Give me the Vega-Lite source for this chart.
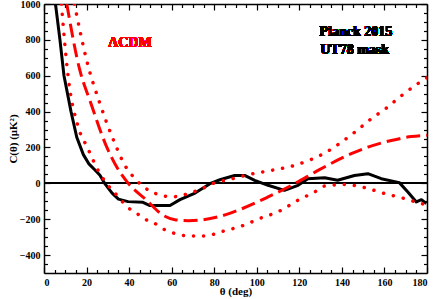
{
  "$schema": "https://vega.github.io/schema/vega-lite/v6.json",
  "width": 383,
  "height": 269,
  "autosize": {"type": "none"},
  "padding": {"left": 44, "top": 4, "right": 9, "bottom": 26},
  "background": "white",
  "config": {
    "view": {"stroke": null},
    "axis": {
      "labelFont": "Liberation Serif",
      "labelFontWeight": "bold",
      "labelFontSize": 10,
      "labelColor": "black",
      "format": "d",
      "titleFont": "Liberation Serif",
      "titleFontWeight": "bold",
      "titleFontSize": 11,
      "titleColor": "black",
      "domainColor": "black",
      "domainWidth": 1.5,
      "tickColor": "black",
      "tickWidth": 1.2,
      "grid": false
    }
  },
  "data": {
    "values": [
      {"series": "data", "theta": 5.4, "C": 1000},
      {"series": "data", "theta": 7.5, "C": 800},
      {"series": "data", "theta": 9.4, "C": 600},
      {"series": "data", "theta": 12.7, "C": 400},
      {"series": "data", "theta": 15.4, "C": 257},
      {"series": "data", "theta": 18.5, "C": 160},
      {"series": "data", "theta": 21, "C": 110},
      {"series": "data", "theta": 23.5, "C": 80},
      {"series": "data", "theta": 26.3, "C": 45},
      {"series": "data", "theta": 28.5, "C": 0},
      {"series": "data", "theta": 32, "C": -55},
      {"series": "data", "theta": 35, "C": -88},
      {"series": "data", "theta": 39.5, "C": -102},
      {"series": "data", "theta": 46.5, "C": -106},
      {"series": "data", "theta": 49.8, "C": -124},
      {"series": "data", "theta": 59.2, "C": -124},
      {"series": "data", "theta": 63.9, "C": -91},
      {"series": "data", "theta": 71, "C": -54},
      {"series": "data", "theta": 78, "C": -2},
      {"series": "data", "theta": 82.7, "C": 20},
      {"series": "data", "theta": 89.6, "C": 44},
      {"series": "data", "theta": 94.3, "C": 44},
      {"series": "data", "theta": 99, "C": 17},
      {"series": "data", "theta": 105.3, "C": -11},
      {"series": "data", "theta": 113, "C": -39},
      {"series": "data", "theta": 119.4, "C": -11},
      {"series": "data", "theta": 124, "C": 26},
      {"series": "data", "theta": 131.9, "C": 31},
      {"series": "data", "theta": 138, "C": 17},
      {"series": "data", "theta": 145.9, "C": 44},
      {"series": "data", "theta": 152.2, "C": 54},
      {"series": "data", "theta": 158.5, "C": 26},
      {"series": "data", "theta": 167, "C": 4},
      {"series": "data", "theta": 171, "C": -48},
      {"series": "data", "theta": 175, "C": -104},
      {"series": "data", "theta": 177.4, "C": -91},
      {"series": "data", "theta": 179.7, "C": -113},

      {"series": "mean", "theta": 10.7, "C": 1000},
      {"series": "mean", "theta": 16.9, "C": 628},
      {"series": "mean", "theta": 21.6, "C": 461},
      {"series": "mean", "theta": 29.5, "C": 202},
      {"series": "mean", "theta": 34.2, "C": 91},
      {"series": "mean", "theta": 39.6, "C": 0},
      {"series": "mean", "theta": 48.2, "C": -94},
      {"series": "mean", "theta": 56, "C": -178},
      {"series": "mean", "theta": 62, "C": -204},
      {"series": "mean", "theta": 68, "C": -208},
      {"series": "mean", "theta": 74, "C": -204},
      {"series": "mean", "theta": 81.8, "C": -187},
      {"series": "mean", "theta": 91.2, "C": -150},
      {"series": "mean", "theta": 105.3, "C": -76},
      {"series": "mean", "theta": 117.8, "C": -2},
      {"series": "mean", "theta": 128.8, "C": 72},
      {"series": "mean", "theta": 144.4, "C": 165},
      {"series": "mean", "theta": 152.2, "C": 202},
      {"series": "mean", "theta": 163.2, "C": 239},
      {"series": "mean", "theta": 172.6, "C": 261},
      {"series": "mean", "theta": 180, "C": 268},

      {"series": "lower", "theta": 8.2, "C": 1000},
      {"series": "lower", "theta": 9.1, "C": 868},
      {"series": "lower", "theta": 11.4, "C": 590},
      {"series": "lower", "theta": 16.1, "C": 313},
      {"series": "lower", "theta": 20.3, "C": 202},
      {"series": "lower", "theta": 26.3, "C": 54},
      {"series": "lower", "theta": 29.5, "C": -2},
      {"series": "lower", "theta": 35.7, "C": -85},
      {"series": "lower", "theta": 38.9, "C": -131},
      {"series": "lower", "theta": 42.8, "C": -159},
      {"series": "lower", "theta": 46.7, "C": -196},
      {"series": "lower", "theta": 51.4, "C": -218},
      {"series": "lower", "theta": 55.3, "C": -250},
      {"series": "lower", "theta": 59.2, "C": -270},
      {"series": "lower", "theta": 63.9, "C": -287},
      {"series": "lower", "theta": 69.4, "C": -294},
      {"series": "lower", "theta": 74.1, "C": -294},
      {"series": "lower", "theta": 78.8, "C": -287},
      {"series": "lower", "theta": 83.3, "C": -270},
      {"series": "lower", "theta": 92.7, "C": -239},
      {"series": "lower", "theta": 101.4, "C": -196},
      {"series": "lower", "theta": 110.8, "C": -154},
      {"series": "lower", "theta": 119.4, "C": -94},
      {"series": "lower", "theta": 127.2, "C": -48},
      {"series": "lower", "theta": 131.9, "C": -15},
      {"series": "lower", "theta": 141.3, "C": -7},
      {"series": "lower", "theta": 150.7, "C": -24},
      {"series": "lower", "theta": 160.1, "C": -57},
      {"series": "lower", "theta": 169.5, "C": -85},
      {"series": "lower", "theta": 177.4, "C": -113},
      {"series": "lower", "theta": 180, "C": -120},

      {"series": "upper", "theta": 14.3, "C": 1000},
      {"series": "upper", "theta": 20.1, "C": 683},
      {"series": "upper", "theta": 26.3, "C": 444},
      {"series": "upper", "theta": 33.4, "C": 220},
      {"series": "upper", "theta": 37.6, "C": 109},
      {"series": "upper", "theta": 42.8, "C": 26},
      {"series": "upper", "theta": 50.6, "C": -48},
      {"series": "upper", "theta": 55.3, "C": -67},
      {"series": "upper", "theta": 60, "C": -76},
      {"series": "upper", "theta": 64.7, "C": -67},
      {"series": "upper", "theta": 70.2, "C": -48},
      {"series": "upper", "theta": 74.9, "C": -26},
      {"series": "upper", "theta": 79.6, "C": 0},
      {"series": "upper", "theta": 86.5, "C": 20},
      {"series": "upper", "theta": 96.7, "C": 50},
      {"series": "upper", "theta": 106.8, "C": 72},
      {"series": "upper", "theta": 116.2, "C": 95},
      {"series": "upper", "theta": 124.9, "C": 130},
      {"series": "upper", "theta": 132.7, "C": 174},
      {"series": "upper", "theta": 137.4, "C": 210},
      {"series": "upper", "theta": 146, "C": 285},
      {"series": "upper", "theta": 153.8, "C": 360},
      {"series": "upper", "theta": 160.9, "C": 420},
      {"series": "upper", "theta": 168, "C": 489},
      {"series": "upper", "theta": 175.8, "C": 557},
      {"series": "upper", "theta": 180, "C": 589}
    ]
  },
  "resolve": {"axis": {"x": "independent", "y": "independent"}},
  "layer": [
    {
      "mark": {"type": "rule", "color": "black", "strokeWidth": 1.2},
      "encoding": {
        "x": {"datum": 0, "type": "quantitative", "scale": {"domain": [0, 180], "nice": false, "zero": false},
          "axis": {"orient": "bottom", "title": "θ (deg)", "values": [0, 20, 40, 60, 80, 100, 120, 140, 160, 180], "tickSize": -6, "labelPadding": 10, "titlePadding": -2}},
        "x2": {"datum": 180},
        "y": {"datum": 0, "type": "quantitative", "scale": {"domain": [-500, 1000], "nice": false, "zero": false},
          "axis": {"orient": "left", "title": "C(θ) (μK²)", "values": [-400, -200, 0, 200, 400, 600, 800, 1000], "tickSize": -6, "labelPadding": 10, "titlePadding": 1}}
      }
    },
    {
      "transform": [{"filter": "datum.series === 'data'"}],
      "mark": {"type": "line", "color": "black", "strokeWidth": 3, "clip": true, "strokeJoin": "round"},
      "encoding": {
        "x": {"field": "theta", "type": "quantitative",
          "axis": {"orient": "bottom", "title": null, "labels": false, "domain": false, "values": [5, 10, 15, 25, 30, 35, 45, 50, 55, 65, 70, 75, 85, 90, 95, 105, 110, 115, 125, 130, 135, 145, 150, 155, 165, 170, 175], "tickSize": -3.5}},
        "y": {"field": "C", "type": "quantitative",
          "axis": {"orient": "left", "title": null, "labels": false, "domain": false, "values": [-450, -350, -300, -250, -150, -100, -50, 50, 100, 150, 250, 300, 350, 450, 500, 550, 650, 700, 750, 850, 900, 950], "tickSize": -3.5}}
      }
    },
    {
      "transform": [{"filter": "datum.series === 'mean'"}],
      "mark": {"type": "line", "color": "#ff0000", "strokeWidth": 3, "clip": true, "interpolate": "monotone", "strokeDash": [14, 6]},
      "encoding": {
        "x": {"field": "theta", "type": "quantitative",
          "axis": {"orient": "top", "title": null, "labels": false, "values": [0, 20, 40, 60, 80, 100, 120, 140, 160, 180], "tickSize": -6}},
        "y": {"field": "C", "type": "quantitative",
          "axis": {"orient": "right", "title": null, "labels": false, "values": [-400, -200, 0, 200, 400, 600, 800, 1000], "tickSize": -6}}
      }
    },
    {
      "transform": [{"filter": "datum.series === 'lower' || datum.series === 'upper'"}],
      "mark": {"type": "line", "color": "#ff0000", "strokeWidth": 3.5, "clip": true, "interpolate": "monotone", "strokeDash": [0.1, 10], "strokeCap": "round"},
      "encoding": {
        "detail": {"field": "series"},
        "x": {"field": "theta", "type": "quantitative",
          "axis": {"orient": "top", "title": null, "labels": false, "domain": false, "values": [5, 10, 15, 25, 30, 35, 45, 50, 55, 65, 70, 75, 85, 90, 95, 105, 110, 115, 125, 130, 135, 145, 150, 155, 165, 170, 175], "tickSize": -3.5}},
        "y": {"field": "C", "type": "quantitative",
          "axis": {"orient": "right", "title": null, "labels": false, "domain": false, "values": [-450, -350, -300, -250, -150, -100, -50, 50, 100, 150, 250, 300, 350, 450, 500, 550, 650, 700, 750, 850, 900, 950], "tickSize": -3.5}}
      }
    },
    {
      "mark": {"type": "text", "text": "ΛCDM", "color": "#ff0000", "font": "Liberation Serif", "fontWeight": "bold", "fontSize": 14, "align": "center", "baseline": "middle"},
      "encoding": {
        "x": {"datum": 40.4, "type": "quantitative", "axis": null},
        "y": {"datum": 783, "type": "quantitative", "axis": null}
      }
    },
    {
      "mark": {"type": "text", "text": "Planck 2015", "color": "black", "font": "Liberation Serif", "fontWeight": "bold", "fontSize": 14, "align": "left", "baseline": "middle"},
      "encoding": {
        "x": {"datum": 129.5, "type": "quantitative", "axis": null},
        "y": {"datum": 844, "type": "quantitative", "axis": null}
      }
    },
    {
      "mark": {"type": "text", "text": "UT78 mask", "color": "black", "font": "Liberation Serif", "fontWeight": "bold", "fontSize": 14, "align": "left", "baseline": "middle"},
      "encoding": {
        "x": {"datum": 129.8, "type": "quantitative", "axis": null},
        "y": {"datum": 744, "type": "quantitative", "axis": null}
      }
    }
  ]
}
